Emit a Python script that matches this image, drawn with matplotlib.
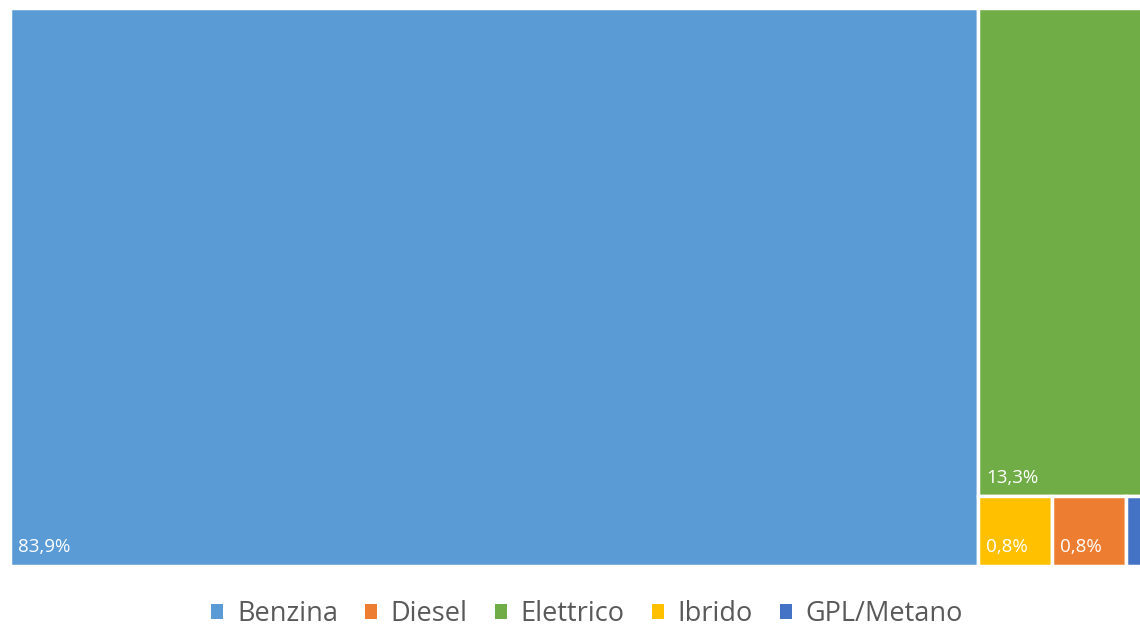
import matplotlib.pyplot as plt
from matplotlib.patches import Rectangle, Patch

# ==============================
# DATA
# ==============================
categories = ["Benzina", "Diesel", "Elettrico", "Ibrido", "GPL/Metano"]
values = [83.9, 0.8, 13.3, 0.8, 0.3]          # quota % (GPL stimato, tagliato nel riferimento)
labels = ["83,9%", "0,8%", "13,3%", "0,8%", ""]  # etichetta GPL fuori dall'immagine
colors = ["#5B9BD5", "#ED7D31", "#70AD47", "#FFC000", "#4472C4"]

plt.rcParams["font.family"] = ["Open Sans", "DejaVu Sans"]

vals = dict(zip(categories, values))
labs = dict(zip(categories, labels))
cols = dict(zip(categories, colors))

# ==============================
# LAYOUT (treemap a colonne)
# ==============================
total = sum(values)
rects = {}
rects["Benzina"] = (0, 0, vals["Benzina"], 1)

x0 = vals["Benzina"]
col_w = total - x0
h_el = vals["Elettrico"] / col_w
rects["Elettrico"] = (x0, 1 - h_el, col_w, h_el)

h_bot = 1 - h_el
bottom_row = ["Ibrido", "Diesel", "GPL/Metano"]
bot_sum = sum(vals[c] for c in bottom_row)
cx = x0
for c in bottom_row:
    w = col_w * vals[c] / bot_sum
    rects[c] = (cx, 0, w, h_bot)
    cx += w

# ==============================
# PLOT
# ==============================
fig = plt.figure(figsize=(11.4, 6.27), dpi=100)
W = 968 * total / vals["Benzina"]
ax = fig.add_axes([10 / 1140, 61 / 627, W / 1140, 558 / 627])
ax.set_xlim(0, total)
ax.set_ylim(0, 1)
ax.axis("off")

for c in ["Benzina", "Elettrico", "Ibrido", "Diesel", "GPL/Metano"]:
    x, y, w, h = rects[c]
    ax.add_patch(Rectangle((x, y), w, h, facecolor=cols[c], edgecolor="white",
                           linewidth=2.5, clip_on=False))
    if labs[c]:
        ax.annotate(labs[c], (x, y), xytext=(6, 7), textcoords="offset points",
                    color="white", fontsize=13.5, ha="left", va="bottom",
                    annotation_clip=False)

handles = [Patch(facecolor=cols[c], edgecolor="none", label=c) for c in categories]
fig.legend(handles=handles, loc="center", bbox_to_anchor=(587 / 1140, 1 - 614 / 627),
           ncol=5, frameon=False, fontsize=19.5, labelcolor="#595959",
           handlelength=0.45, handleheight=0.45, handletextpad=0.5, columnspacing=1.0)

fig.savefig("out.png", dpi=100)
